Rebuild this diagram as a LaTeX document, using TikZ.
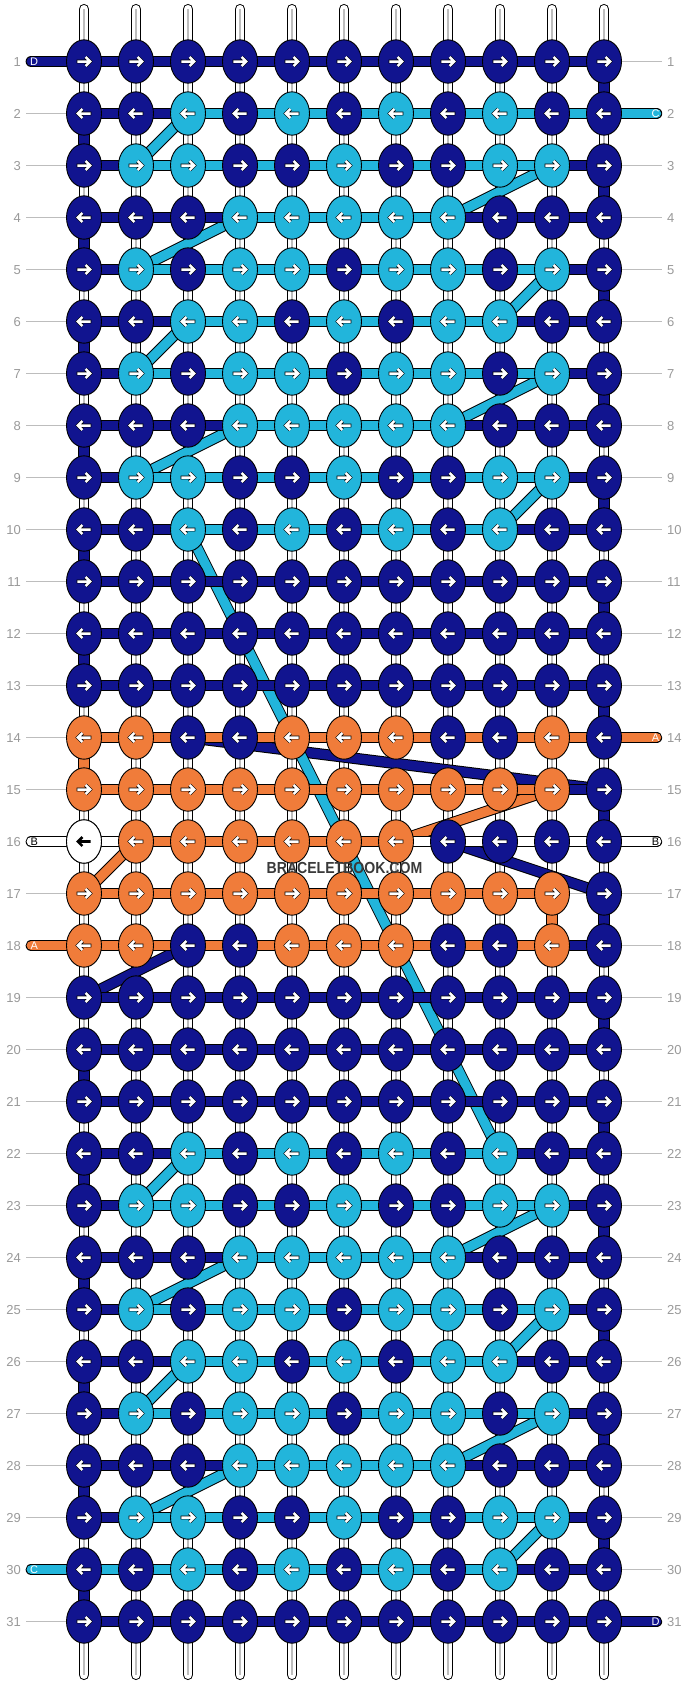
\documentclass[tikz,border=0pt]{standalone}
\usepackage{fontspec}
\setmainfont{Liberation Sans}
\definecolor{kD}{HTML}{11148F}
\definecolor{kL}{HTML}{22B5DB}
\definecolor{kO}{HTML}{F07C3A}
\definecolor{kW}{HTML}{FFFFFF}
\definecolor{lblgray}{HTML}{9A9A9A}
\definecolor{lngray}{HTML}{BDBDBD}
\definecolor{wmgray}{HTML}{3A3A3A}
\tikzset{
  thr/.style={line width=1pt, draw=black, double=#1, double distance=9.4pt},
  stub/.style={thr=#1, line cap=round},
  knotshape/.style={fill=#1, draw=black, line width=0.9pt},
  arrowout/.style={draw=black, line width=3.7pt, line join=miter},
  arrowin/.style={draw=white, line width=2.5pt, line join=miter},
  rowline/.style={draw=lngray, line width=1.3pt},
  rowlbl/.style={text=lblgray, font=\fontsize{13}{13}\selectfont, inner sep=0pt, text height=9.3pt, text depth=0pt},
  stublbl/.style={text=#1, font=\fontsize{11}{11}\selectfont, inner sep=0pt, text height=7.9pt, text depth=0pt},
}
\begin{document}
\begin{tikzpicture}[x=1pt,y=-1pt]
\fill[white] (0,0) rectangle (688,1684);
\useasboundingbox (0,0) rectangle (688,1684);
% grid coordinates
\foreach \r in {1,...,31}{
  \foreach \i in {1,...,11}{
    \coordinate (k\r-\i) at ({84+52*(\i-1)},{61.5+52*(\r-1)});
  }
  \coordinate (L\r) at (26,{61.5+52*(\r-1)});
  \coordinate (R\r) at (662,{61.5+52*(\r-1)});
  \coordinate (SL\r) at (31.3,{61.5+52*(\r-1)});
  \coordinate (SR\r) at (656.5,{61.5+52*(\r-1)});
}
% row guide lines and numbers
\foreach \r in {1,...,31}{
  \draw[rowline] (L\r) -- (R\r);
  \node[rowlbl, anchor=east] (nl\r) at ([xshift=-5pt]L\r) {\r};
  \node[rowlbl, anchor=west] (nr\r) at ([xshift=5pt]R\r) {\r};
}
% vertical base strands
\foreach \i in {1,...,11}{
  \coordinate (T\i) at ({84+52*(\i-1)},9.2);
  \coordinate (B\i) at ({84+52*(\i-1)},1674.8);
  \draw[black, line width=10.5pt, line cap=round] (T\i) -- (B\i);
  \draw[white, line width=8.5pt, line cap=round] (T\i) -- (B\i);
  \draw[lngray, line width=1.2pt] (T\i) -- (B\i);
}
% diagonal threads
\foreach \a/\b in {k14-3/k15-11, k16-8/k17-11, k18-3/k19-1} \draw[thr=kD] (\a) -- (\b);
\foreach \a/\b in {k15-10/k16-7, k16-2/k17-1} \draw[thr=kO] (\a) -- (\b);
\foreach \a/\b in {k2-3/k3-2, k3-10/k4-8, k4-4/k5-2, k5-10/k6-9, k6-3/k7-2, k7-10/k8-8, k8-4/k9-2, k9-10/k10-9, k10-3/k22-9, k22-3/k23-2, k23-10/k24-8, k24-4/k25-2, k25-10/k26-9, k26-3/k27-2, k27-10/k28-8, k28-4/k29-2, k29-10/k30-9} \draw[thr=kL] (\a) -- (\b);
% edge verticals
\foreach \j in {1,3,...,29}{
  \pgfmathtruncatemacro\jj{\j+1}
  \draw[thr=kD] (k\j-11) -- (k\jj-11);
}
\foreach \j in {2,4,6,8,10,12,20,22,24,26,28,30}{
  \pgfmathtruncatemacro\jj{\j+1}
  \draw[thr=kD] (k\j-1) -- (k\jj-1);
}
\draw[thr=kO] (k14-1) -- (k15-1);
\draw[thr=kO] (k17-10) -- (k18-10);
% horizontal segments
\foreach \r/\pat in {1/{D,D,D,D,D,D,D,D,D,D},
2/{D,D,L,L,L,L,L,L,L,L},
3/{D,L,L,L,L,L,L,L,L,D},
4/{D,D,D,L,L,L,L,D,D,D},
5/{D,L,L,L,L,L,L,L,L,D},
6/{D,D,L,L,L,L,L,L,D,D},
7/{D,L,L,L,L,L,L,L,L,D},
8/{D,D,D,L,L,L,L,D,D,D},
9/{D,L,L,L,L,L,L,L,L,D},
10/{D,D,L,L,L,L,L,L,D,D},
11/{D,D,D,D,D,D,D,D,D,D},
12/{D,D,D,D,D,D,D,D,D,D},
13/{D,D,D,D,D,D,D,D,D,D},
14/{O,O,O,O,O,O,O,O,O,O},
15/{O,O,O,O,O,O,O,O,O,D},
16/{W,O,O,O,O,O,W,W,W,W},
17/{O,O,O,O,O,O,O,O,O,X},
18/{O,O,O,O,O,O,O,O,O,D},
19/{D,D,D,D,D,D,D,D,D,D},
20/{D,D,D,D,D,D,D,D,D,D},
21/{D,D,D,D,D,D,D,D,D,D},
22/{D,D,L,L,L,L,L,L,D,D},
23/{D,L,L,L,L,L,L,L,L,D},
24/{D,D,D,L,L,L,L,D,D,D},
25/{D,L,L,L,L,L,L,L,L,D},
26/{D,D,L,L,L,L,L,L,D,D},
27/{D,L,L,L,L,L,L,L,L,D},
28/{D,D,D,L,L,L,L,D,D,D},
29/{D,L,L,L,L,L,L,L,L,D},
30/{L,L,L,L,L,L,L,L,D,D},
31/{D,D,D,D,D,D,D,D,D,D}}{
  \foreach \c [count=\i] in \pat {
    \pgfmathtruncatemacro\ii{\i+1}
    \if\c X\else \draw[thr=k\c] (k\r-\i) -- (k\r-\ii); \fi
  }
}
% end stubs
\draw[stub=kD] (SL1) -- (k1-1);
\draw[stub=kW] (SL16) -- (k16-1);
\draw[stub=kO] (SL18) -- (k18-1);
\draw[stub=kL] (SL30) -- (k30-1);
\draw[stub=kL] (k2-11) -- (SR2);
\draw[stub=kO] (k14-11) -- (SR14);
\draw[stub=kW] (k16-11) -- (SR16);
\draw[stub=kD] (k31-11) -- (SR31);
\node[stublbl=white] (sl1) at ([xshift=2.9pt]SL1) {D};
\node[stublbl=black] (sl16) at ([xshift=2.9pt]SL16) {B};
\node[stublbl=white] (sl18) at ([xshift=2.9pt]SL18) {A};
\node[stublbl=white] (sl30) at ([xshift=2.9pt]SL30) {C};
\node[stublbl=white] (sr2) at ([xshift=-1pt]SR2) {C};
\node[stublbl=white] (sr14) at ([xshift=-1pt]SR14) {A};
\node[stublbl=black] (sr16) at ([xshift=-1pt]SR16) {B};
\node[stublbl=white] (sr31) at ([xshift=-1pt]SR31) {D};
% knots
\foreach \r/\pat in {1/{D,D,D,D,D,D,D,D,D,D,D},
2/{D,D,L,D,L,D,L,D,L,D,D},
3/{D,L,L,D,D,L,D,D,L,L,D},
4/{D,D,D,L,L,L,L,L,D,D,D},
5/{D,L,D,L,L,D,L,L,D,L,D},
6/{D,D,L,L,D,L,D,L,L,D,D},
7/{D,L,D,L,L,D,L,L,D,L,D},
8/{D,D,D,L,L,L,L,L,D,D,D},
9/{D,L,L,D,D,L,D,D,L,L,D},
10/{D,D,L,D,L,D,L,D,L,D,D},
11/{D,D,D,D,D,D,D,D,D,D,D},
12/{D,D,D,D,D,D,D,D,D,D,D},
13/{D,D,D,D,D,D,D,D,D,D,D},
14/{O,O,D,D,O,O,O,D,D,O,D},
15/{O,O,O,O,O,O,O,O,O,O,D},
16/{W,O,O,O,O,O,O,D,D,D,D},
17/{O,O,O,O,O,O,O,O,O,O,D},
18/{O,O,D,D,O,O,O,D,D,O,D},
19/{D,D,D,D,D,D,D,D,D,D,D},
20/{D,D,D,D,D,D,D,D,D,D,D},
21/{D,D,D,D,D,D,D,D,D,D,D},
22/{D,D,L,D,L,D,L,D,L,D,D},
23/{D,L,L,D,D,L,D,D,L,L,D},
24/{D,D,D,L,L,L,L,L,D,D,D},
25/{D,L,D,L,L,D,L,L,D,L,D},
26/{D,D,L,L,D,L,D,L,L,D,D},
27/{D,L,D,L,L,D,L,L,D,L,D},
28/{D,D,D,L,L,L,L,L,D,D,D},
29/{D,L,L,D,D,L,D,D,L,L,D},
30/{D,D,L,D,L,D,L,D,L,D,D},
31/{D,D,D,D,D,D,D,D,D,D,D}}{
  \pgfmathsetmacro\dir{1-2*mod(\r+1,2)}
  \foreach \c [count=\i] in \pat {
    \filldraw[knotshape=k\c] (k\r-\i) ellipse [x radius=17.5, y radius=21.7];
    \begin{scope}[shift={(k\r-\i)}, xscale=\dir]
      \draw[arrowout] (-7.3,0) -- (5.4,0) (1.6,-4.5) -- (6.1,0) -- (1.6,4.5);
      \draw[arrowin] (-6.7,0) -- (5.4,0) (1.6,-4.5) -- (6.1,0) -- (1.6,4.5);
    \end{scope}
  }
}
% white knot with black arrow
\filldraw[knotshape=kW] (k16-1) ellipse [x radius=17.5, y radius=21.7];
\begin{scope}[shift={(k16-1)}, xscale=-1]
  \draw[black, line width=2.6pt, line join=miter] (-6.7,0) -- (5.4,0) (1.6,-4.5) -- (6.1,0) -- (1.6,4.5);
\end{scope}
% watermark
\node[text=wmgray, font=\bfseries\fontsize{16}{16}\selectfont, xscale=0.88, inner sep=0pt, text height=11.5pt, text depth=0pt] (wm) at (344.5,867.5) {BRACELETBOOK.COM};
\end{tikzpicture}
\end{document}
